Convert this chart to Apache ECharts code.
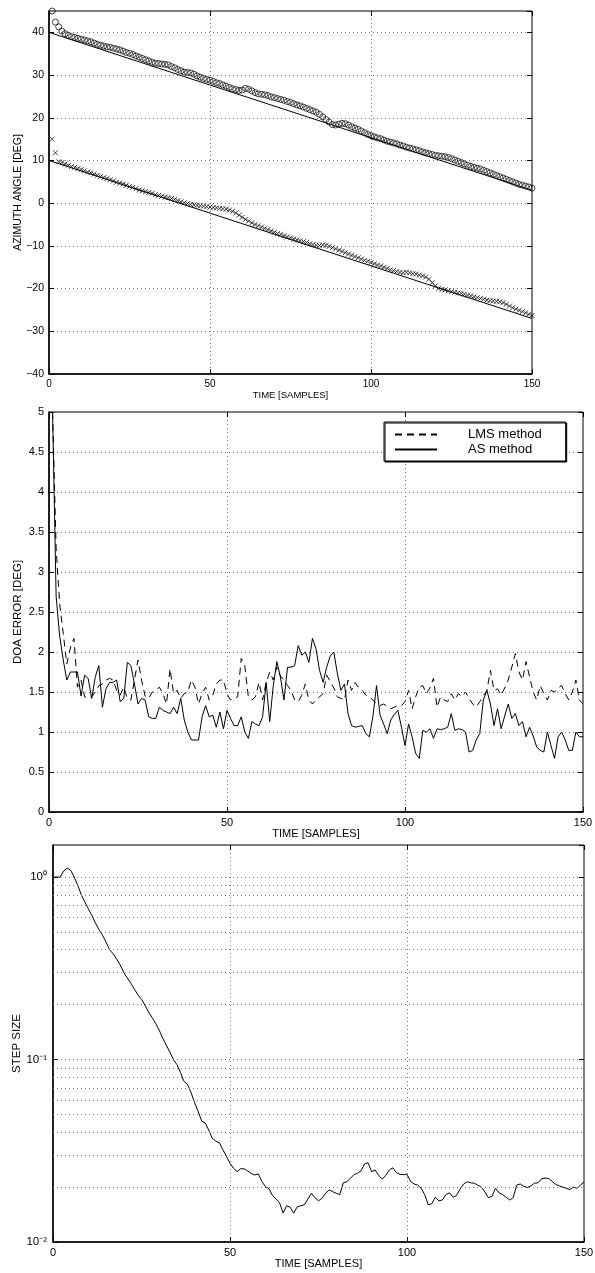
<!DOCTYPE html>
<html>
<head>
<meta charset="utf-8">
<script src="https://cdn.jsdelivr.net/npm/echarts@6/dist/echarts.min.js"></script>
<style>
  html, body { margin: 0; padding: 0; background: #fff; }
  #chart { width: 595px; height: 1273px; }
</style>
</head>
<body>
<div id="chart"></div>
<script>
// time index of samples
const sampleIdx = Array.from({ length: 150 }, (v, i) => i + 1)
const stepIdx = Array.from({ length: 151 }, (v, i) => i)

// top: azimuth estimates (o and x) and true tracks
const trackA = [
  45.0, 42.4, 41.3, 40.3, 39.7, 39.3, 39.0, 38.8, 38.6, 38.4,
  38.2, 38.0, 37.8, 37.5, 37.2, 37.0, 36.8, 36.6, 36.5, 36.3,
  36.1, 35.9, 35.6, 35.3, 35.1, 34.8, 34.5, 34.2, 33.9, 33.6,
  33.3, 33.0, 32.8, 32.7, 32.6, 32.5, 32.4, 32.0, 31.7, 31.3,
  31.0, 30.7, 30.6, 30.5, 30.2, 29.8, 29.5, 29.2, 29.0, 28.8,
  28.5, 28.2, 28.0, 27.7, 27.4, 27.1, 26.8, 26.6, 26.4, 26.5,
  26.9, 26.7, 26.3, 25.9, 25.6, 25.5, 25.4, 25.2, 24.9, 24.7,
  24.5, 24.3, 24.1, 23.8, 23.6, 23.3, 23.0, 22.8, 22.5, 22.2,
  21.9, 21.6, 21.3, 20.8, 20.2, 19.6, 19.0, 18.4, 18.3, 18.5,
  18.7, 18.6, 18.3, 17.9, 17.6, 17.3, 16.9, 16.5, 16.1, 15.8,
  15.5, 15.3, 15.1, 14.8, 14.5, 14.3, 14.1, 13.9, 13.6, 13.4,
  13.1, 12.9, 12.7, 12.5, 12.3, 12.0, 11.8, 11.6, 11.4, 11.2,
  11.1, 11.0, 10.9, 10.7, 10.4, 10.1, 9.8, 9.5, 9.2, 8.9,
  8.6, 8.4, 8.2, 8.0, 7.7, 7.4, 7.1, 6.8, 6.5, 6.2,
  5.9, 5.6, 5.3, 5.0, 4.7, 4.4, 4.2, 4.0, 3.8, 3.5
]
const trackB = [
  15.0, 11.8, 9.7, 9.5, 9.2, 8.9, 8.6, 8.4, 8.1, 7.9,
  7.6, 7.3, 7.1, 6.8, 6.5, 6.3, 6.0, 5.8, 5.5, 5.2,
  4.9, 4.7, 4.5, 4.2, 3.9, 3.7, 3.4, 3.1, 2.9, 2.7,
  2.5, 2.3, 2.0, 1.8, 1.6, 1.4, 1.3, 1.1, 0.9, 0.6,
  0.3, 0.1, -0.1, -0.3, -0.4, -0.5, -0.6, -0.7, -0.8, -0.9,
  -1.0, -1.1, -1.2, -1.3, -1.4, -1.6, -1.9, -2.3, -2.8, -3.3,
  -3.8, -4.2, -4.6, -5.0, -5.3, -5.6, -5.9, -6.2, -6.5, -6.8,
  -7.1, -7.3, -7.6, -7.9, -8.1, -8.4, -8.6, -8.8, -9.0, -9.2,
  -9.5, -9.7, -9.8, -9.9, -9.8, -9.9, -10.1, -10.4, -10.7, -11.0,
  -11.3, -11.6, -11.9, -12.2, -12.5, -12.8, -13.1, -13.4, -13.6, -13.9,
  -14.2, -14.5, -14.7, -15.0, -15.3, -15.6, -15.8, -16.0, -16.2, -16.3,
  -16.2, -16.3, -16.5, -16.6, -16.8, -17.0, -17.3, -17.8, -18.6, -19.4,
  -20.0, -20.2, -20.3, -20.5, -20.7, -20.9, -21.0, -21.1, -21.3, -21.5,
  -21.7, -21.9, -22.1, -22.3, -22.5, -22.7, -22.8, -22.9, -23.0, -23.1,
  -23.3, -23.7, -24.1, -24.5, -24.8, -25.1, -25.4, -25.7, -26.0, -26.3
]
const trueA = [[0, 40], [150, 3]]
const trueB = [[0, 10], [150, -27]]

// middle: DOA error
const lmsErr = [
  5.0, 3.3, 2.6, 2.23, 1.85, 2.05, 2.17, 1.56, 1.65, 1.44,
  1.42, 1.44, 1.5, 1.58, 1.6, 1.65, 1.67, 1.65, 1.52, 1.46,
  1.56, 1.42, 1.4, 1.65, 1.9, 1.65, 1.45, 1.42, 1.5, 1.52,
  1.56, 1.48, 1.35, 1.79, 1.48, 1.52, 1.42, 1.48, 1.5, 1.65,
  1.56, 1.35, 1.48, 1.56, 1.4, 1.46, 1.6, 1.65, 1.65, 1.48,
  1.4, 1.42, 1.44, 1.92, 1.83, 1.44, 1.4, 1.44, 1.62, 1.4,
  1.62, 1.75, 1.65, 1.81, 1.7, 1.65, 1.58, 1.52, 1.4, 1.38,
  1.46, 1.6, 1.4, 1.35, 1.4, 1.44, 1.48, 1.71, 1.63, 1.55,
  1.44, 1.42, 1.4, 1.65, 1.52, 1.62, 1.55, 1.52, 1.46, 1.44,
  1.4, 1.35, 1.33, 1.35, 1.32, 1.29, 1.31, 1.33, 1.33, 1.38,
  1.52, 1.29, 1.44, 1.56, 1.58, 1.48, 1.55, 1.67, 1.31, 1.44,
  1.4, 1.38, 1.48, 1.4, 1.48, 1.44, 1.5, 1.42, 1.35, 1.31,
  1.38, 1.45, 1.52, 1.77, 1.52, 1.54, 1.46, 1.55, 1.65, 1.81,
  1.98, 1.75, 1.65, 1.88, 1.69, 1.5, 1.4, 1.58, 1.48, 1.4,
  1.52, 1.5, 1.55, 1.58, 1.48, 1.4, 1.5, 1.65, 1.4, 1.35
]
const asErr = [
  5.0, 2.7, 2.2, 1.9, 1.65, 1.75, 1.75, 1.75, 1.45, 1.71,
  1.67, 1.42, 1.69, 1.83, 1.31, 1.54, 1.62, 1.62, 1.65, 1.38,
  1.42, 1.87, 1.83, 1.6, 1.35, 1.42, 1.4, 1.19, 1.17, 1.17,
  1.31, 1.27, 1.25, 1.23, 1.31, 1.23, 1.42, 1.15, 1.0, 0.9,
  0.9, 0.9, 1.19, 1.33, 1.19, 1.21, 1.06, 1.25, 1.04, 1.27,
  1.17, 1.08, 1.08, 1.19, 1.0, 0.92, 1.13, 1.1, 1.08, 1.19,
  1.62, 1.13, 1.58, 1.88, 1.69, 1.4, 1.81, 1.81, 1.83, 2.08,
  1.96, 2.0, 1.87, 2.17, 2.04, 1.77, 1.62, 1.81, 1.95, 2.0,
  1.73, 1.52, 1.6, 1.23, 1.08, 1.06, 1.07, 1.08, 0.98, 0.94,
  1.2, 1.58, 1.21, 1.1, 0.98, 1.15, 1.22, 1.27, 1.06, 0.83,
  1.1, 0.94, 0.73, 0.67, 1.02, 1.0, 1.04, 0.92, 1.04, 1.03,
  1.04, 1.06, 1.23, 1.02, 1.04, 1.03, 1.0, 0.75, 0.77, 0.9,
  0.98, 1.4, 1.52, 1.35, 1.08, 1.29, 1.04, 1.2, 1.35, 1.17,
  1.23, 1.08, 1.13, 0.94, 1.06, 0.95, 0.81, 0.77, 0.75, 1.0,
  0.83, 0.67, 0.94, 1.0, 0.9, 0.77, 0.77, 1.0, 0.94, 0.94
]

// bottom: step size (log scale)
const stepSize = [
  1.0, 1.0, 1.0, 1.08, 1.12, 1.09, 1.0, 0.9, 0.8, 0.73,
  0.67, 0.615, 0.56, 0.515, 0.48, 0.44, 0.4, 0.38, 0.355, 0.33,
  0.3, 0.28, 0.262, 0.243, 0.226, 0.214, 0.198, 0.182, 0.17, 0.158,
  0.145, 0.131, 0.12, 0.11, 0.1, 0.094, 0.085, 0.076, 0.073, 0.066,
  0.058, 0.052, 0.046, 0.045, 0.041, 0.037, 0.0357, 0.035, 0.032, 0.0295,
  0.027, 0.0254, 0.0243, 0.0252, 0.0252, 0.0245, 0.0238, 0.0233, 0.0236, 0.0215,
  0.0201, 0.0196, 0.018, 0.0172, 0.0164, 0.0144, 0.0158, 0.0155, 0.0144, 0.0156,
  0.0158, 0.016, 0.0172, 0.0185, 0.0175, 0.0168, 0.0174, 0.0185, 0.0193, 0.0189,
  0.0185, 0.0182, 0.0211, 0.0214, 0.0223, 0.0234, 0.0238, 0.0245, 0.0268, 0.0272,
  0.0243, 0.0248, 0.0232, 0.0221, 0.0232, 0.0248, 0.0255, 0.024, 0.0235, 0.0234,
  0.0235, 0.0215, 0.0208, 0.0205, 0.0197, 0.0182, 0.016, 0.0162, 0.0176, 0.0168,
  0.017, 0.0182, 0.0186, 0.0176, 0.018, 0.0195, 0.0208, 0.0214, 0.0211, 0.021,
  0.0205, 0.02, 0.0188, 0.0175, 0.0178, 0.0197, 0.0186, 0.0182, 0.0176, 0.017,
  0.0175, 0.0205, 0.0208, 0.0202, 0.0199, 0.0203, 0.021, 0.0211, 0.0222, 0.0224,
  0.0223, 0.0215, 0.0207, 0.0203, 0.02, 0.0197, 0.0194, 0.02, 0.0197, 0.0205, 0.0213
]
const logMinorLevels = [0.02, 0.03, 0.04, 0.05, 0.06, 0.07, 0.08, 0.09, 0.2, 0.3, 0.4, 0.5, 0.6, 0.7, 0.8, 0.9]
const logLabels = { '1': '10⁰', '0.1': '10⁻¹', '0.01': '10⁻²' }

const FONT = 'Liberation Sans, Arial, Helvetica, sans-serif'
const gridDot = { color: '#777', width: 1, type: [1, 3] }
const minusSign = (v) => String(v).replace('-', '\u2212')

function pairs(xs, ys) {
  return xs.map((t, i) => [t, ys[i]])
}

function mainX(grid, fs, nameFs, gap) {
  return {
    gridIndex: grid, type: 'value', min: 0, max: 150, interval: 50, position: 'bottom',
    name: 'TIME [SAMPLES]', nameLocation: 'middle', nameGap: gap,
    nameTextStyle: { color: '#000', fontSize: nameFs, fontFamily: FONT },
    axisLine: { show: true, onZero: false, lineStyle: { color: '#000', width: 1.5 } },
    axisTick: { show: true, inside: true, length: 5, lineStyle: { color: '#000' } },
    axisLabel: { color: '#000', fontSize: fs, fontFamily: FONT, margin: 5 },
    splitLine: { show: true, lineStyle: gridDot }
  }
}
function topX(grid) {
  return {
    gridIndex: grid, type: 'value', min: 0, max: 150, interval: 50, position: 'top',
    axisLine: { show: false, onZero: false }, axisLabel: { show: false }, splitLine: { show: false },
    axisTick: { show: true, inside: true, length: 5, lineStyle: { color: '#000' } }
  }
}
function sideY(grid, extra) {
  return Object.assign({
    gridIndex: grid, position: 'right',
    axisLine: { show: false, onZero: false }, axisLabel: { show: false }, splitLine: { show: false },
    axisTick: { show: true, inside: true, length: 5, lineStyle: { color: '#000' } }
  }, extra)
}

let myChart = echarts.init(document.getElementById('chart'))

const gridBase = { show: true, borderColor: '#000', borderWidth: 1, backgroundColor: '#fff', containLabel: false, outerBoundsMode: 'none' }

let option = {
  animation: false,
  backgroundColor: '#fff',
  grid: [
    Object.assign({ left: 49, top: 11, width: 483, height: 363 }, gridBase),
    Object.assign({ left: 49, top: 412, width: 534, height: 400 }, gridBase),
    Object.assign({ left: 53, top: 845, width: 531, height: 397 }, gridBase)
  ],
  legend: {
    left: 384, top: 422, orient: 'vertical',
    data: ['LMS method', 'AS method'],
    itemWidth: 42, itemHeight: 12, itemGap: 2,
    padding: [6, 24, 5, 10],
    borderColor: '#000', borderWidth: 1, backgroundColor: '#fff',
    shadowColor: '#000', shadowOffsetX: 1, shadowOffsetY: 1, shadowBlur: 0,
    itemStyle: { opacity: 0 },
    textStyle: { color: '#000', fontSize: 13, fontFamily: FONT, padding: [0, 0, 0, 26] }
  },
  xAxis: [
    mainX(0, 10, 9.5, 14), topX(0),
    mainX(1, 11, 11, 16), topX(1),
    mainX(2, 11, 11, 16), topX(2)
  ],
  yAxis: [
    {
      gridIndex: 0, type: 'value', min: -40, max: 45, interval: 10,
      name: 'AZIMUTH ANGLE [DEG]', nameLocation: 'middle', nameGap: 25, nameRotate: 90, nameMoveOverlap: false,
      nameTextStyle: { color: '#000', fontSize: 10.5, fontFamily: FONT },
      axisLine: { show: true, onZero: false, lineStyle: { color: '#000', width: 1.5 } },
      axisTick: { show: true, inside: true, length: 5, lineStyle: { color: '#000' } },
      axisLabel: { color: '#000', fontSize: 10.5, fontFamily: FONT, margin: 5, showMaxLabel: false, formatter: minusSign },
      splitLine: { show: true, lineStyle: gridDot }
    },
    sideY(0, { type: 'value', min: -40, max: 45, interval: 10 }),
    {
      gridIndex: 1, type: 'value', min: 0, max: 5, interval: 0.5,
      name: 'DOA ERROR [DEG]', nameLocation: 'middle', nameGap: 25, nameRotate: 90, nameMoveOverlap: false,
      nameTextStyle: { color: '#000', fontSize: 11.5, fontFamily: FONT },
      axisLine: { show: true, onZero: false, lineStyle: { color: '#000', width: 1.5 } },
      axisTick: { show: true, inside: true, length: 5, lineStyle: { color: '#000' } },
      axisLabel: { color: '#000', fontSize: 11, fontFamily: FONT, margin: 5 },
      splitLine: { show: true, lineStyle: gridDot }
    },
    sideY(1, { type: 'value', min: 0, max: 5, interval: 0.5 }),
    {
      gridIndex: 2, type: 'log', logBase: 10, min: 0.01, max: 1.5,
      name: 'STEP SIZE', nameLocation: 'middle', nameGap: 30, nameRotate: 90, nameMoveOverlap: false,
      nameTextStyle: { color: '#000', fontSize: 11.5, fontFamily: FONT },
      axisLine: { show: true, onZero: false, lineStyle: { color: '#000', width: 1.5 } },
      axisTick: { show: true, inside: true, length: 5, lineStyle: { color: '#000' } },
      axisLabel: {
        color: '#000', fontSize: 11.5, fontFamily: FONT, margin: 6, showMaxLabel: false,
        formatter: (v) => logLabels[String(+v.toPrecision(3))] || ''
      },
      splitLine: { show: true, lineStyle: gridDot }
    },
    sideY(2, { type: 'log', logBase: 10, min: 0.01, max: 1.5 })
  ],
  series: [
    {
      name: 'track A true', type: 'line', xAxisIndex: 0, yAxisIndex: 0,
      data: trueA, symbol: 'none', lineStyle: { color: '#000', width: 1 }
    },
    {
      name: 'track B true', type: 'line', xAxisIndex: 0, yAxisIndex: 0,
      data: trueB, symbol: 'none', lineStyle: { color: '#000', width: 1 }
    },
    {
      name: 'track A', type: 'scatter', xAxisIndex: 0, yAxisIndex: 0,
      data: pairs(sampleIdx, trackA), symbol: 'circle', symbolSize: 6,
      itemStyle: { color: 'transparent', borderColor: '#000', borderWidth: 0.9 }
    },
    {
      name: 'track B', type: 'scatter', xAxisIndex: 0, yAxisIndex: 0,
      data: pairs(sampleIdx, trackB), symbol: 'path://M0,0L10,10M10,0L0,10', symbolSize: 5,
      itemStyle: { color: 'transparent', borderColor: '#000', borderWidth: 0.9 }
    },
    {
      name: 'LMS method', type: 'line', xAxisIndex: 2, yAxisIndex: 2,
      data: pairs(sampleIdx, lmsErr), symbol: 'none',
      itemStyle: { color: '#000' },
      lineStyle: { color: '#000', width: 1, type: [7, 5] }
    },
    {
      name: 'AS method', type: 'line', xAxisIndex: 2, yAxisIndex: 2,
      data: pairs(sampleIdx, asErr), symbol: 'none',
      itemStyle: { color: '#000' },
      lineStyle: { color: '#000', width: 1 }
    },
    {
      name: 'step size', type: 'line', xAxisIndex: 4, yAxisIndex: 4,
      data: pairs(stepIdx, stepSize), symbol: 'none',
      lineStyle: { color: '#000', width: 1 },
      markLine: {
        silent: true, symbol: 'none', label: { show: false },
        lineStyle: gridDot,
        data: logMinorLevels.map(v => ({ yAxis: v }))
      }
    }
  ]
}

myChart.setOption(option)
</script>
</body>
</html>
